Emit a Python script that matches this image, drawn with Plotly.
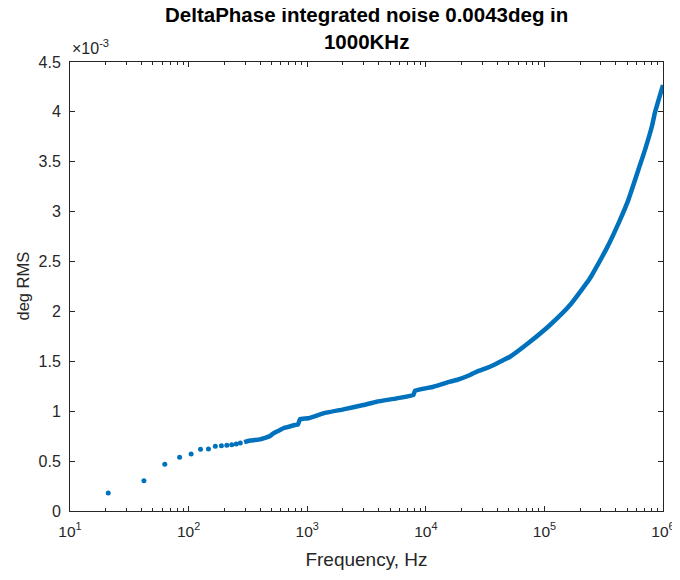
import plotly.graph_objects as go

# Sparse low-frequency points (Hz, deg RMS in units of 1e-3)
dot_freq = [21, 42, 63, 84, 105, 126, 147, 168, 189, 210, 231, 252, 273]
dot_val = [0.180, 0.304, 0.468, 0.538, 0.571, 0.618, 0.621, 0.648, 0.654,
           0.658, 0.664, 0.671, 0.681]

# Dense part of the curve (Hz, deg RMS in units of 1e-3)
line_freq = [294, 330, 400, 427, 486, 518, 590, 629, 671, 789, 836, 869,
             1021, 1367, 2016, 2970, 3853, 5685, 7848, 8110, 11570, 16000,
             18230, 23590, 26870, 34750, 42240, 51270, 75640, 111500, 164500,
             242300, 335000, 433300, 509500, 639500, 704000, 807400, 857000,
             1000000]
line_val = [0.690, 0.706, 0.718, 0.728, 0.752, 0.779, 0.812, 0.829, 0.839,
            0.862, 0.867, 0.919, 0.929, 0.979, 1.019, 1.062, 1.095, 1.129,
            1.162, 1.205, 1.245, 1.296, 1.313, 1.363, 1.396, 1.446, 1.496,
            1.546, 1.696, 1.864, 2.064, 2.332, 2.632, 2.916, 3.116, 3.467,
            3.617, 3.858, 3.998, 4.269]

x_ticks = [10, 100, 1000, 10000, 100000, 1000000]
x_ticktext = ["10<sup>1</sup>", "10<sup>2</sup>", "10<sup>3</sup>",
              "10<sup>4</sup>", "10<sup>5</sup>", "10<sup>6</sup>"]
y_ticks = [0, 0.5, 1, 1.5, 2, 2.5, 3, 3.5, 4, 4.5]
y_ticktext = ["0", "0.5", "1", "1.5", "2", "2.5", "3", "3.5", "4", "4.5"]

title_text = "DeltaPhase integrated noise 0.0043deg in<br>1000KHz"
color = "#0072BD"
axcol = "#262626"
font = "Liberation Sans, Arial, sans-serif"

fig = go.Figure()
fig.add_trace(go.Scatter(x=dot_freq, y=dot_val, mode="markers",
                         marker=dict(color=color, size=5), showlegend=False))
fig.add_trace(go.Scatter(x=line_freq, y=line_val, mode="lines",
                         line=dict(color=color, width=4.5, shape="spline",
                                   smoothing=0.4),
                         showlegend=False))

fig.update_layout(
    width=672, height=562,
    margin=dict(l=62, r=17, t=54, b=59, autoexpand=False),
    paper_bgcolor="white", plot_bgcolor="white",
    font=dict(family=font, size=16, color=axcol),
    xaxis=dict(type="log", range=[1, 6], tickvals=x_ticks, ticktext=x_ticktext,
               ticks="inside", ticklen=5, tickcolor=axcol, showline=True,
               linecolor=axcol, linewidth=1, mirror="ticks", showgrid=False,
               zeroline=False, ticklabelstandoff=6, automargin=False,
               tickfont=dict(size=15.5),
               minor=dict(ticks="inside", ticklen=3, tickcolor=axcol,
                          dtick="D1", showgrid=False),
               title=dict(text="Frequency, Hz", standoff=14)),
    yaxis=dict(range=[0, 4.5], tickvals=y_ticks, ticktext=y_ticktext,
               ticks="inside", ticklen=5, tickcolor=axcol, showline=True,
               linecolor=axcol, linewidth=1, mirror="ticks", showgrid=False,
               zeroline=False, ticklabelstandoff=5, automargin=False),
)
fig.add_annotation(text="<b>" + title_text + "</b>", xref="paper",
                   yref="paper", x=0.5, y=1, xanchor="center",
                   yanchor="bottom", yshift=7, showarrow=False,
                   font=dict(size=20.5, color="black"))
fig.add_annotation(text="deg RMS", xref="paper", yref="paper", x=0, y=0.5,
                   xanchor="center", yanchor="middle", xshift=-48,
                   textangle=-90, showarrow=False,
                   font=dict(size=16.5, color=axcol))
fig.add_annotation(text="\u00d710<sup>-3</sup>", xref="paper", yref="paper",
                   x=0, y=1, xanchor="left", yanchor="bottom", showarrow=False,
                   font=dict(size=16, color=axcol), xshift=0, yshift=3)

fig.write_html("out.html")
